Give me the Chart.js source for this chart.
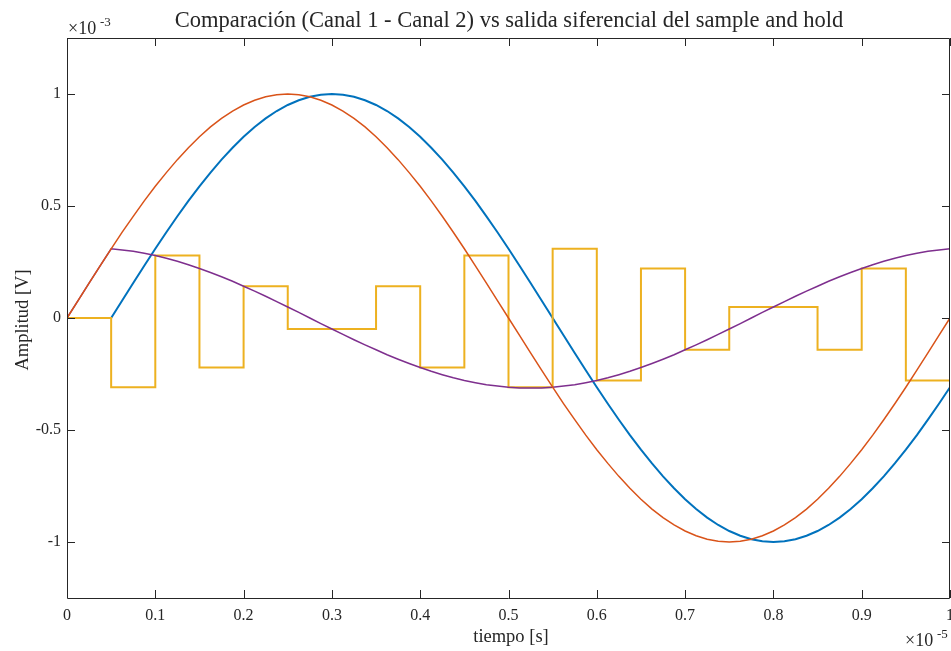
<!DOCTYPE html>
<html><head><meta charset="utf-8">
<script src="https://cdn.jsdelivr.net/npm/chart.js@4/dist/chart.umd.min.js"></script>
<style>html,body{margin:0;padding:0;background:#fff}</style>
</head><body>
<canvas id="c" width="951" height="651"></canvas>
<script>
// tiempo en unidades de 1e-5 s, amplitud en unidades de 1e-3 V
const tiempo = Array.from({length: 81}, (_, k) => k * 0.0125);
const canal1 = [0,.078,.156,.233,.309,.383,.454,.523,.588,.649,.707,.760,.809,.853,.891,.924,.951,.972,.988,.997,1,.997,.988,.972,.951,.924,.891,.853,.809,.760,.707,.649,.588,.523,.454,.383,.309,.233,.156,.078,0,-.078,-.156,-.233,-.309,-.383,-.454,-.523,-.588,-.649,-.707,-.760,-.809,-.853,-.891,-.924,-.951,-.972,-.988,-.997,-1,-.997,-.988,-.972,-.951,-.924,-.891,-.853,-.809,-.760,-.707,-.649,-.588,-.523,-.454,-.383,-.309,-.233,-.156,-.078,0];
const canal2 = [0,0,0,0,0,.078,.156,.233,.309,.383,.454,.523,.588,.649,.707,.760,.809,.853,.891,.924,.951,.972,.988,.997,1,.997,.988,.972,.951,.924,.891,.853,.809,.760,.707,.649,.588,.523,.454,.383,.309,.233,.156,.078,0,-.078,-.156,-.233,-.309,-.383,-.454,-.523,-.588,-.649,-.707,-.760,-.809,-.853,-.891,-.924,-.951,-.972,-.988,-.997,-1,-.997,-.988,-.972,-.951,-.924,-.891,-.853,-.809,-.760,-.707,-.649,-.588,-.523,-.454,-.383,-.309];
const diferencia = [0,.078,.156,.233,.309,.304,.298,.289,.279,.267,.253,.238,.221,.203,.184,.164,.142,.120,.097,.073,.049,.025,0,-.025,-.049,-.073,-.097,-.120,-.142,-.164,-.184,-.203,-.221,-.238,-.253,-.267,-.279,-.289,-.298,-.304,-.309,-.312,-.313,-.312,-.309,-.304,-.298,-.289,-.279,-.267,-.253,-.238,-.221,-.203,-.184,-.164,-.142,-.120,-.097,-.073,-.049,-.025,0,.025,.049,.073,.097,.120,.142,.164,.184,.203,.221,.238,.253,.267,.279,.289,.298,.304,.309];
const tiempoSH = [0,0.05,0.1,0.15,0.2,0.25,0.3,0.35,0.4,0.45,0.5,0.55,0.6,0.65,0.7,0.75,0.8,0.85,0.9,0.95,1];
const sampleHold = [0,-0.309,0.279,-0.221,0.142,-0.049,-0.049,0.142,-0.221,0.279,-0.309,0.309,-0.279,0.221,-0.142,0.049,0.049,-0.142,0.221,-0.279,-0.279];
const xTicks = [0,0.1,0.2,0.3,0.4,0.5,0.6,0.7,0.8,0.9,1];
const yTicks = [-1,-0.5,0,0.5,1];
const titulo = 'Comparación (Canal 1 - Canal 2) vs salida siferencial del sample and hold';

const FONT = '"Liberation Serif", "Times New Roman", serif';
const TXT = '#262626';

const pts = (xs, ys) => xs.map((x, i) => ({x: x, y: ys[i]}));

const decor = {
  id: 'decor',
  afterDraw(chart) {
    const ctx = chart.ctx, a = chart.chartArea;
    const xs = chart.scales.x, ys = chart.scales.y;
    ctx.save();
    ctx.strokeStyle = '#262626';
    ctx.lineWidth = 1;
    ctx.beginPath();
    ctx.rect(Math.round(a.left) + 0.5, Math.round(a.top) + 0.5, Math.round(a.right - a.left) - 1, Math.round(a.bottom - a.top));
    ctx.stroke();
    const L = 8;
    ctx.beginPath();
    xTicks.forEach(v => {
      const px = Math.round(xs.getPixelForValue(v)) + 0.5;
      ctx.moveTo(px, a.bottom); ctx.lineTo(px, a.bottom - L);
      ctx.moveTo(px, a.top); ctx.lineTo(px, a.top + L);
    });
    yTicks.forEach(v => {
      const py = Math.round(ys.getPixelForValue(v)) + 0.5;
      ctx.moveTo(a.left, py); ctx.lineTo(a.left + L, py);
      ctx.moveTo(a.right, py); ctx.lineTo(a.right - L, py);
    });
    ctx.stroke();

    ctx.fillStyle = TXT;
    ctx.font = '22.5px ' + FONT;
    ctx.textAlign = 'center';
    ctx.textBaseline = 'alphabetic';
    ctx.fillText(titulo, 509, 27);
    ctx.font = '18.5px ' + FONT;
    ctx.fillText('tiempo [s]', 511, 642);
    ctx.save();
    ctx.translate(28, 320);
    ctx.rotate(-Math.PI / 2);
    ctx.fillText('Amplitud [V]', 0, 0);
    ctx.restore();
    ctx.textAlign = 'left';
    ctx.font = '18px ' + FONT;
    ctx.fillText('\u00d710', 68, 34);
    ctx.font = '13px ' + FONT;
    ctx.fillText('-3', 100, 26);
    ctx.font = '18px ' + FONT;
    ctx.fillText('\u00d710', 905, 646);
    ctx.font = '13px ' + FONT;
    ctx.fillText('-5', 937, 638);
    ctx.restore();
  }
};

new Chart(document.getElementById('c'), {
  type: 'line',
  data: {
    datasets: [
      {label: 'Canal 1', data: pts(tiempo, canal1), borderColor: '#D95319', borderWidth: 1.5},
      {label: 'Canal 1 - Canal 2', data: pts(tiempo, diferencia), borderColor: '#7E2F8E', borderWidth: 1.5},
      {label: 'Sample and hold', data: pts(tiempoSH, sampleHold), borderColor: '#EDB120', borderWidth: 2, stepped: 'before'},
      {label: 'Canal 2', data: pts(tiempo, canal2), borderColor: '#0072BD', borderWidth: 2}
    ]
  },
  options: {
    responsive: false,
    animation: false,
    events: [],
    layout: {padding: {top: 38, right: 1, left: 0, bottom: 0}},
    elements: {point: {radius: 0}, line: {tension: 0, fill: false}},
    plugins: {legend: {display: false}, title: {display: false}, tooltip: {enabled: false}},
    scales: {
      x: {
        type: 'linear', min: 0, max: 1,
        grid: {display: false, drawTicks: false},
        border: {display: false},
        afterBuildTicks: s => { s.ticks = xTicks.map(v => ({value: v})); },
        afterFit: s => { s.height = 53; s.paddingLeft = 0; s.paddingRight = 0; },
        ticks: {padding: 8, maxRotation: 0, autoSkip: false, color: TXT, font: {family: FONT, size: 16},
          callback: v => String(Math.round(v * 10) / 10)}
      },
      y: {
        type: 'linear', min: -1.25, max: 1.25,
        grid: {display: false, drawTicks: false},
        border: {display: false},
        afterBuildTicks: s => { s.ticks = yTicks.map(v => ({value: v})); },
        afterFit: s => { s.width = 67; s.paddingTop = 0; s.paddingBottom = 0; },
        ticks: {padding: 6, autoSkip: false, color: TXT, font: {family: FONT, size: 16},
          callback: v => String(v)}
      }
    }
  },
  plugins: [decor]
});
</script>
</body></html>
